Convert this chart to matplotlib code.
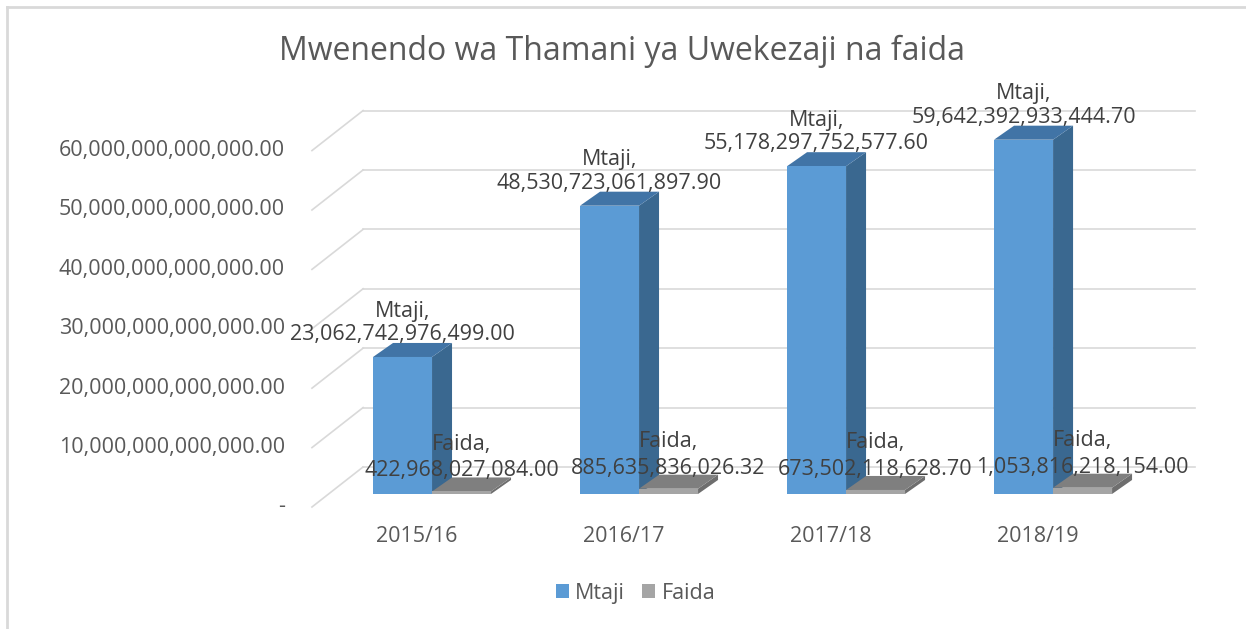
import numpy as np
import matplotlib.pyplot as plt
from matplotlib.patches import Polygon, Patch
from matplotlib.lines import Line2D

years = ['2015/16', '2016/17', '2017/18', '2018/19']
mtaji = [23062742976499.00, 48530723061897.90, 55178297752577.60, 59642392933444.70]
faida = [422968027084.00, 885635836026.32, 673502118628.70, 1053816218154.00]
yticks = [0, 10e12, 20e12, 30e12, 40e12, 50e12, 60e12]

plt.rcParams['font.family'] = ['Open Sans', 'DejaVu Sans']

blue, blue_side, blue_top = '#5b9bd5', '#3a6890', '#4174a6'
grey, grey_side, grey_top = '#a5a5a5', '#6e6e6e', '#7f7f7f'
grid_c = '#d9d9d9'
fs = 15.5

fig = plt.figure(figsize=(12.46, 6.29), dpi=100)
ax = fig.add_axes([0, 0, 1, 1])
# one category step = 207 px, 1e12 = 5.94 px
ax.set_xlim(-2.087, 3.932)
ax.set_ylim(-22.73e12, 83.16e12)
ax.axis('off')

x = np.arange(len(years))
bw = 0.285            # bar width (category units)
ddx, ddy = 0.0966, 2.36e12   # bar depth offset
wdx, wdy = 0.164, 4.55e12    # back wall offset from bar front plane
fdx, fdy = -0.580 + 0.333, -2.19e12  # front floor edge relative to wall start
wall_x0, wall_x1 = -0.333, 3.686

# back wall gridlines + left side slant
for t in yticks:
    yb = t + wdy
    ax.plot([wall_x0, wall_x1], [yb, yb], color=grid_c, lw=1.2, zorder=1)
    ax.plot([wall_x0 + fdx, wall_x0], [t + fdy, yb], color=grid_c, lw=1.2, zorder=1)
    lab = '-' if t == 0 else f'{t:,.2f}'
    ax.text(-0.71, t + fdy, lab, ha='right', va='center', fontsize=fs, color='#595959')


def bar3d(xl, w, h, front, side, top):
    xr = xl + w
    ax.add_patch(Polygon([(xr, 0), (xr + ddx, ddy), (xr + ddx, h + ddy), (xr, h)],
                         closed=True, facecolor=side, edgecolor='none', zorder=3))
    ax.add_patch(Polygon([(xl, h), (xr, h), (xr + ddx, h + ddy), (xl + ddx, h + ddy)],
                         closed=True, facecolor=top, edgecolor='none', zorder=3))
    ax.bar(xl, h, width=w, align='edge', color=front, zorder=3)


for i in range(len(years)):
    bar3d(x[i] - bw, bw, mtaji[i], blue, blue_side, blue_top)
    bar3d(x[i], bw, faida[i], grey, grey_side, grey_top)

for i in range(len(years)):
    ax.annotate(f'Mtaji,\n{mtaji[i]:,.2f}', (x[i] - bw / 2, mtaji[i]),
                xytext=(0, 12), textcoords='offset pixels', ha='center', va='bottom',
                fontsize=fs, color='#404040', linespacing=1.15, zorder=5)
    ax.annotate(f'Faida,\n{faida[i]:,.2f}', (x[i] + bw / 2, faida[i]),
                xytext=(0, 10), textcoords='offset pixels', ha='center', va='bottom',
                fontsize=fs, color='#404040', linespacing=1.35, zorder=5)
    ax.text(x[i] - 0.072, -7.24e12, years[i], ha='center', va='center',
            fontsize=fs, color='#595959')

fig.text(0.499, 0.918, 'Mwenendo wa Thamani ya Uwekezaji na faida', ha='center', va='center',
         fontsize=23, color='#595959')

handles = [Patch(facecolor=blue, label='Mtaji'), Patch(facecolor=grey, label='Faida')]
fig.legend(handles=handles, loc='center', bbox_to_anchor=(0.51, 0.057), ncol=2, frameon=False,
           fontsize=fs, labelcolor='#595959', handlelength=0.6, handleheight=0.6,
           handletextpad=0.3, columnspacing=0.8)

# chart frame (left + top only visible)
fig.add_artist(Line2D([7 / 1246, 7 / 1246], [0, 1 - 7 / 629], color=grid_c, lw=2))
fig.add_artist(Line2D([7 / 1246, 1], [1 - 7 / 629, 1 - 7 / 629], color=grid_c, lw=2))

fig.savefig('out.png', dpi=100, facecolor='white')
